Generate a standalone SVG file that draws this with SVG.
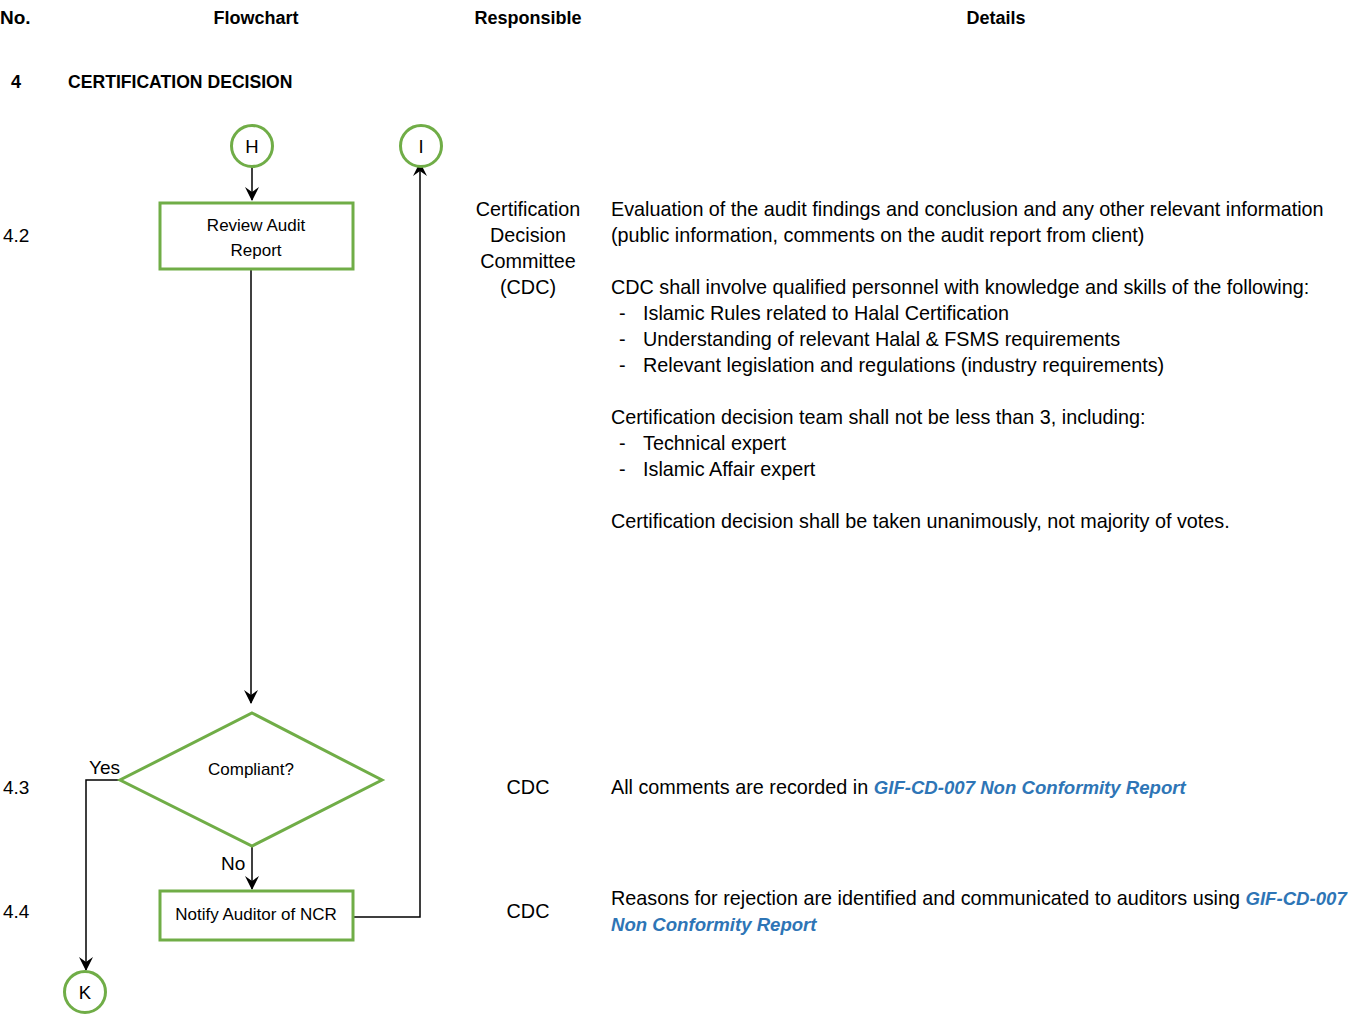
<svg xmlns="http://www.w3.org/2000/svg" width="1372" height="1015" viewBox="0 0 1372 1015">
<style>
text{font-family:"Liberation Sans",Arial,sans-serif;fill:#000}
.h{font-weight:bold;font-size:18px}
.t{font-size:19.8px}
.n{font-size:19px}
.f{font-size:17px}
.l{font-size:18.5px}
.c{text-anchor:middle}
.lk{fill:#2E75B6;font-weight:bold;font-style:italic;font-size:18.6px}
.node{fill:#fff;stroke:#70AD47;stroke-width:3}
.conn{fill:none;stroke:#000;stroke-width:1.5}
</style>
<defs>
<marker id="arr" viewBox="0 0 14 14" refX="13" refY="7" markerWidth="14" markerHeight="14" markerUnits="userSpaceOnUse" orient="auto">
<path d="M0,0 L14,7 L0,14 L5,7 Z" fill="#000"/>
</marker>
</defs>
<rect width="1372" height="1015" fill="#fff"/>
<g id="headers">
<text class="h" x="0" y="24" style="font-size:19px">No.</text>
<text class="h c" x="256" y="24">Flowchart</text>
<text class="h c" x="528" y="24">Responsible</text>
<text class="h c" x="996" y="24">Details</text>
<text class="h" x="11" y="88">4</text>
<text class="h" x="68" y="88" style="font-size:17.6px">CERTIFICATION DECISION</text>
</g>
<g id="numbers" class="n">
<text x="3" y="242">4.2</text>
<text x="3" y="794">4.3</text>
<text x="3" y="918">4.4</text>
</g>
<g id="connectors">
<path class="conn" d="M252,167 V200" marker-end="url(#arr)"/>
<path class="conn" d="M251,269 V703" marker-end="url(#arr)"/>
<path class="conn" d="M120,780 H86 V970" marker-end="url(#arr)"/>
<path class="conn" d="M252,846 V889" marker-end="url(#arr)"/>
<path class="conn" d="M353,917 H420 V163" marker-end="url(#arr)"/>
<text class="n" x="89" y="774">Yes</text>
<text class="n" x="221" y="870">No</text>
</g>
<g id="node-H">
<circle class="node" cx="252" cy="146" r="20.5"/>
<text class="l c" x="252" y="152.5">H</text>
</g>
<g id="node-I">
<circle class="node" cx="421" cy="146" r="20.5"/>
<text class="l c" x="421" y="152.5">I</text>
</g>
<g id="node-review">
<rect class="node" x="160" y="203" width="193" height="66"/>
<text class="f c" x="256" y="231">Review Audit</text>
<text class="f c" x="256" y="256">Report</text>
</g>
<g id="node-compliant">
<polygon class="node" points="252,713 382,780 252,846 120,780"/>
<text class="f c" x="251" y="775">Compliant?</text>
</g>
<g id="node-notify">
<rect class="node" x="160" y="891" width="193" height="49"/>
<text class="f c" x="256" y="920">Notify Auditor of NCR</text>
</g>
<g id="node-K">
<circle class="node" cx="85" cy="992" r="20.5"/>
<text class="l c" x="85" y="998.5">K</text>
</g>
<g id="responsible" class="t c">
<text x="528" y="216">Certification</text>
<text x="528" y="242">Decision</text>
<text x="528" y="268">Committee</text>
<text x="528" y="294">(CDC)</text>
<text x="528" y="794">CDC</text>
<text x="528" y="918">CDC</text>
</g>
<g id="details" class="t">
<text x="611" y="216">Evaluation of the audit findings and conclusion and any other relevant information</text>
<text x="611" y="242">(public information, comments on the audit report from client)</text>
<text x="611" y="294">CDC shall involve qualified personnel with knowledge and skills of the following:</text>
<text x="619" y="320">-</text><text x="643" y="320">Islamic Rules related to Halal Certification</text>
<text x="619" y="346">-</text><text x="643" y="346">Understanding of relevant Halal &amp; FSMS requirements</text>
<text x="619" y="372">-</text><text x="643" y="372">Relevant legislation and regulations (industry requirements)</text>
<text x="611" y="424">Certification decision team shall not be less than 3, including:</text>
<text x="619" y="450">-</text><text x="643" y="450">Technical expert</text>
<text x="619" y="476">-</text><text x="643" y="476">Islamic Affair expert</text>
<text x="611" y="528">Certification decision shall be taken unanimously, not majority of votes.</text>
<text x="611" y="794">All comments are recorded in <tspan class="lk">GIF-CD-007 Non Conformity Report</tspan></text>
<text x="611" y="905">Reasons for rejection are identified and communicated to auditors using <tspan class="lk">GIF-CD-007</tspan></text>
<text x="611" y="931" class="lk">Non Conformity Report</text>
</g>
</svg>
